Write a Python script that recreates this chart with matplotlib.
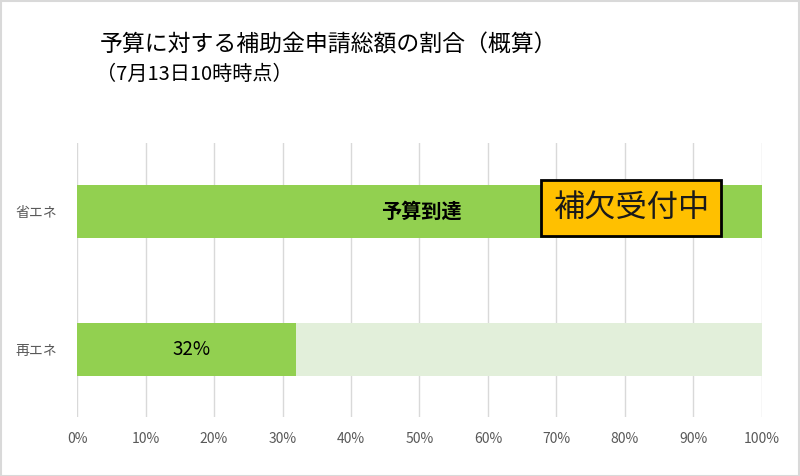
import matplotlib.pyplot as plt
from matplotlib.patches import Rectangle

plt.rcParams['font.family'] = ['Noto Sans CJK JP', 'DejaVu Sans']

# data
categories = ['再エネ', '省エネ']
applied = [0.32, 1.00]
budget = [1.00, 1.00]
bar_labels = ['32%', '予算到達']
xticks = [i / 10 for i in range(11)]
xtick_labels = [f'{i * 10}%' for i in range(11)]

title = '予算に対する補助金申請総額の割合（概算）'
subtitle = '（7月13日10時時点）'
status = '補欠受付中'

fig = plt.figure(figsize=(8, 4.76), dpi=100)
ax = fig.add_axes([0.09625, 0.124, 0.85625, 0.5756])

ypos = list(range(len(categories)))
ax.barh(ypos, budget, height=0.39, color='#E2EFDA', zorder=2)
ax.barh(ypos, applied, height=0.39, color='#92D050', zorder=3)

ax.set_xlim(0, 1)
ax.set_ylim(-0.49, 1.497)
ax.set_xticks(xticks)
ax.set_xticklabels(xtick_labels)
ax.set_yticks(ypos)
ax.set_yticklabels(categories)
ax.tick_params(axis='both', length=0, labelsize=10, colors='#595959')
ax.tick_params(axis='x', pad=11)
ax.tick_params(axis='y', pad=14)
for s in ax.spines.values():
    s.set_visible(False)
ax.grid(axis='x', color='#D9D9D9', linewidth=1, zorder=0)
ax.set_axisbelow(True)

# labels in bars
ax.text(0.167, 0, bar_labels[0], ha='center', va='center', fontsize=13.5, color='black', zorder=5)
ax.text(0.503, 1, bar_labels[1], ha='center', va='center', fontsize=14.5,
        fontweight='bold', color='black', zorder=5)

ax.text(0.809, 1.025, status, ha='center', va='center', fontsize=22.5, color='#1a1a1a', zorder=6,
        bbox=dict(boxstyle='square,pad=0.38', facecolor='#FFC000', edgecolor='black', linewidth=2))

fig.text(0.125, 0.905, title, ha='left', va='center', fontsize=16.5, color='black')
fig.text(0.12, 0.843, subtitle, ha='left', va='center', fontsize=14.5, color='black')

fig.patches.append(Rectangle((0.001, 0.001), 0.998, 0.997, transform=fig.transFigure,
                             fill=False, edgecolor='#D9D9D9', linewidth=1.5))

fig.savefig('out.png', dpi=100)
